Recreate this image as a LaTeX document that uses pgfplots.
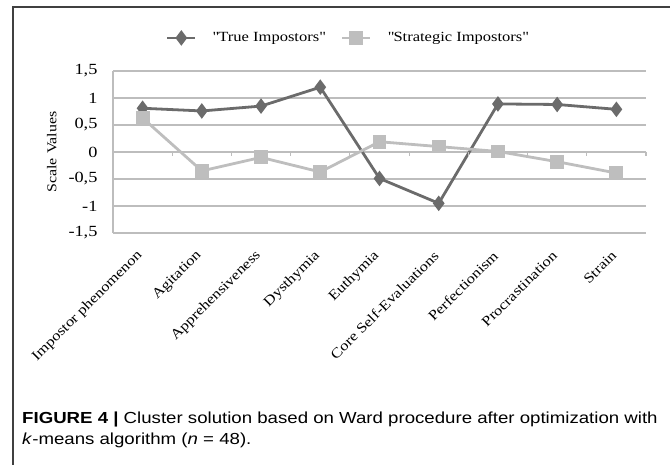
\documentclass[border=0pt]{standalone}
\usepackage{fontspec}
\setmainfont{Liberation Serif}[FakeStretch=1.18]
\newfontfamily\capfont{Liberation Sans}[FakeStretch=1.165]
\usepackage{pgfplots}
\pgfplotsset{compat=1.18}
\definecolor{trueC}{HTML}{6B6B6B}
\definecolor{stratC}{HTML}{BEBEBE}
\definecolor{gridC}{HTML}{BDBDBD}
\begin{document}
\begin{tikzpicture}[x=1pt,y=1pt]
\useasboundingbox (0,0) rectangle (670,465);
\draw[line width=1.4pt, color=black!75] (13,0) -- (13,458) -- (670,458);
\begin{axis}[
  at={(113pt,232pt)}, anchor=south west,
  scale only axis, width=533pt, height=162pt,
  xmin=-0.5, xmax=8.5, ymin=-1.5, ymax=1.5,
  axis y line*=left, axis x line*=bottom,
  axis line style={gridC, line width=1.2pt},
  xtick={0,...,8},
  xticklabels={Impostor phenomenon, Agitation, Apprehensiveness, Dysthymia, Euthymia, Core Self-Evaluations, Perfectionism, Procrastination, Strain},
  x tick label style={rotate=45, anchor=east, font=\fontsize{14}{16}\selectfont},
  xticklabel shift=18pt,
  ytick={-1.5,-1,-0.5,0,0.5,1,1.5},
  yticklabels={{-1,5},{-1},{-0,5},{0},{0,5},{1},{1,5}},
  y tick label style={font=\fontsize{15.5}{17}\selectfont},
  yticklabel shift=12pt,
  major tick length=0pt,
  ymajorgrids, grid style={gridC, line width=1.2pt},
  ylabel={Scale Values},
  ylabel style={at={(axis description cs:-0.115,0.5)}, anchor=center, font=\fontsize{13.5}{15}\selectfont},
  legend columns=2,
  legend style={at={(axis description cs:0.441,1.204)}, anchor=center, draw=none, fill=none,
    font=\fontsize{14}{16}\selectfont, column sep=14pt, inner sep=0pt},
  legend image code/.code={\draw[mark repeat=2,mark phase=2] plot coordinates {(0pt,0pt)(14pt,0pt)(28pt,0pt)};},
  clip=false,
]
\addplot[color=trueC, line width=2.8pt, mark=diamond*, mark size=5.5pt, mark options={solid}]
  coordinates {(0,0.81)(1,0.76)(2,0.85)(3,1.20)(4,-0.49)(5,-0.95)(6,0.89)(7,0.88)(8,0.79)};
\addlegendentry{\textquotedbl True Impostors\textquotedbl}
\addplot[color=stratC, line width=2.8pt, mark=square*, mark size=5.5pt, mark options={solid}]
  coordinates {(0,0.63)(1,-0.35)(2,-0.10)(3,-0.37)(4,0.19)(5,0.10)(6,0.01)(7,-0.18)(8,-0.39)};
\addlegendentry{\textquotedbl Strategic Impostors\textquotedbl}
\pgfplotsinvokeforeach{-0.5,0.5,1.5,2.5,3.5,4.5,5.5,6.5,7.5,8.5}{\draw[gridC, line width=1.2pt] (axis cs:#1,0) -- ++(0pt,-4pt);}
\end{axis}
\node[anchor=base west, inner sep=0pt, font=\capfont\fontsize{16}{18}\selectfont] at (22,41)
  {\textbf{FIGURE 4 |} Cluster solution based on Ward procedure after optimization with};
\node[anchor=base west, inner sep=0pt, font=\capfont\fontsize{16}{18}\selectfont] at (22,20)
  {\textit{k}-means algorithm (\textit{n} = 48).};
\end{tikzpicture}
\end{document}
